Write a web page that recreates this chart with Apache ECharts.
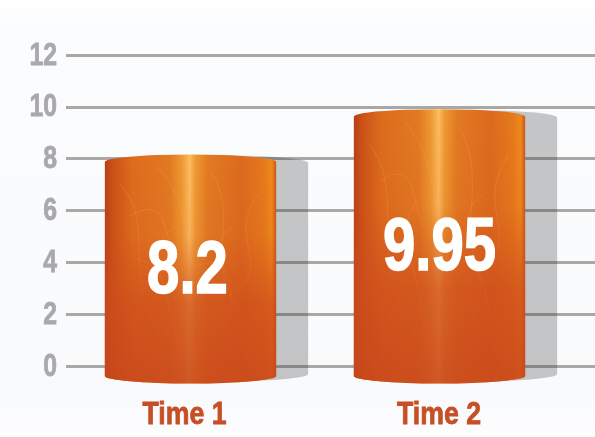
<!DOCTYPE html>
<html><head><meta charset="utf-8">
<style>html,body{margin:0;padding:0;background:#fff}#c{width:595px;height:437px}</style>
<script src="https://cdn.jsdelivr.net/npm/echarts@6/dist/echarts.min.js"></script>
</head><body><div id="c"></div>
<script>
const categories = ['Time 1', 'Time 2'];
const values = [8.2, 9.95];
const valueLabels = ['8.2', '9.95'];
const tickValues = [0, 2, 4, 6, 8, 10, 12];
const yMin = 0, yMax = 12, yStep = 2;

const FONT = '"Liberation Sans",Arial,sans-serif';
// label placement: height of each big number on the y scale, and small horizontal nudges in px
const labelHeights = [3.59, 4.51];
const labelNudge = [-3, 0];
const categoryNudge = [-6, -0.5];
// decorative swirl strands, as fractions of each cylinder's box
const swirls = [
  [.08,.10,.30,.25,.10,.55,.32,.80],
  [.30,.02,.55,.22,.42,.45,.62,.62],
  [.62,.05,.80,.25,.55,.50,.82,.72],
  [.18,.45,.45,.50,.30,.80,.55,.97],
  [.55,.55,.90,.55,.70,.85,.90,.98],
  [.90,.15,.70,.35,.98,.45,.76,.62],
  [.35,.70,.58,.62,.62,.88,.40,.98],
  [.05,.70,.25,.62,.20,.90,.38,.96],
  [.15,.25,.50,.10,.20,.60,.70,.45],
  [.42,.30,.10,.45,.60,.70,.25,.92],
  [.75,.30,.50,.42,.95,.62,.60,.86]
];

function cylPath(l, r, top, bot, ry) {
  const a = (r - l) / 2;
  return `M${l} ${top}A${a} ${ry} 0 0 1 ${r} ${top}L${r} ${bot}A${a} ${ry} 0 0 1 ${l} ${bot}Z`;
}

function renderCylinder(params, api) {
  const idx = api.value(0), val = api.value(1);
  const c = api.coord([idx, val]), base = api.coord([idx, 0]);
  const w = api.size([1, 0])[0] * 0.688;
  const l = c[0] - w / 2, r = c[0] + w / 2;
  const ry = 7.5, top = c[1] + ry + 1, bot = base[1] + 10;
  const h = bot - top;
  const body = cylPath(l, r, top, bot, ry);
  const G = echarts.graphic.LinearGradient;
  const children = [
    { type:'path', shape:{pathData: cylPath(l + 32, r + 32, top + 1, bot - 2, ry)},
      style:{fill:'rgba(50,50,52,0.27)'} },
    { type:'path', shape:{pathData: body},
      style:{fill:new G(0,0,1,0,[
        {offset:0,color:'#b93f17'},{offset:.05,color:'#cb5217'},{offset:.16,color:'#dd6c1d'},
        {offset:.38,color:'#e27a22'},{offset:.45,color:'#ee9a32'},{offset:.495,color:'#fdbd60'},
        {offset:.53,color:'#ee9a32'},{offset:.6,color:'#e27a22'},{offset:.8,color:'#dc6a1e'},
        {offset:.93,color:'#e67a1c'},{offset:.975,color:'#ef8a1c'},{offset:1,color:'#c9541a'}])} }
  ];
  swirls.forEach(s => children.push({ type:'bezierCurve', shape:{
      x1:l+s[0]*w, y1:top+s[1]*h, cpx1:l+s[2]*w, cpy1:top+s[3]*h,
      cpx2:l+s[4]*w, cpy2:top+s[5]*h, x2:l+s[6]*w, y2:top+s[7]*h},
    style:{stroke:'rgba(255,185,105,0.2)', lineWidth:1, fill:null} }));
  children.push({ type:'path', shape:{pathData: body},
    style:{fill:new G(0,0,0,1,[
      {offset:0,color:'rgba(205,75,28,0)'},{offset:.35,color:'rgba(205,75,28,0.1)'},
      {offset:.65,color:'rgba(205,75,28,0.72)'},{offset:1,color:'rgba(200,70,28,0.85)'}])} });
  const tp = api.coord([idx, labelHeights[idx]]);
  children.push({ type:'text', x:c[0]+labelNudge[idx], y:tp[1], scaleX:0.785, style:{
    text: valueLabels[idx], x:0, y:0, align:'center', verticalAlign:'middle',
    font:'bold 74px ' + FONT, fill:'#fff', stroke:'#fff', lineWidth:1.6,
    shadowBlur:3, shadowColor:'rgba(120,40,10,0.5)', shadowOffsetX:1, shadowOffsetY:1 } });
  children.push({ type:'text', x:c[0]+categoryNudge[idx], y:base[1]+49, scaleX:0.86, style:{
    text: categories[idx], x:0, y:0, align:'center', verticalAlign:'middle',
    font:'bold 31px ' + FONT, fill:'#c64f26', stroke:'#c64f26', lineWidth:0.8 } });
  return { type:'group', children };
}

function renderTick(params, api) {
  const p = api.coord([0, api.value(0)]);
  return { type:'text', x:p[0]-9, y:p[1]+1, scaleX:0.8, style:{
    text:String(api.value(0)), x:0, y:0, align:'right', verticalAlign:'middle',
    font:'bold 31px ' + FONT, fill:'#a9a9ac', stroke:'#a9a9ac', lineWidth:0.8 } };
}

const chart = echarts.init(document.getElementById('c'), null, {renderer:'canvas'});
chart.setOption({
  animation:false,
  backgroundColor:new echarts.graphic.LinearGradient(0,0,0,1,[
    {offset:0,color:'#ffffff'},{offset:.06,color:'#fbfcfe'},{offset:.9,color:'#f8fafc'},{offset:1,color:'#fdfdfe'}]),
  grid:[
    {left:66,right:0,top:55,height:311},
    {left:66,width:498,top:55,height:311}
  ],
  xAxis:[
    {gridIndex:0,type:'value',show:false,min:0,max:1},
    {gridIndex:1,type:'category',data:categories,
     axisLine:{show:false},axisTick:{show:false},axisLabel:{show:false}}
  ],
  yAxis:[
    {gridIndex:0,type:'value',min:yMin,max:yMax,interval:yStep,
     axisLine:{show:false},axisTick:{show:false},axisLabel:{show:false},
     splitLine:{lineStyle:{color:'#aaa8a7',width:3}}},
    {gridIndex:1,type:'value',show:false,min:yMin,max:yMax,interval:yStep,splitLine:{show:false}}
  ],
  series:[{
    type:'custom',xAxisIndex:0,yAxisIndex:0,
    data:tickValues.map(v=>[v]),
    encode:{y:0},
    renderItem:renderTick
  },{
    type:'custom',xAxisIndex:1,yAxisIndex:1,
    data:values.map((v,i)=>[i,v]),
    encode:{x:0,y:1},
    renderItem:renderCylinder
  }]
});
</script></body></html>
